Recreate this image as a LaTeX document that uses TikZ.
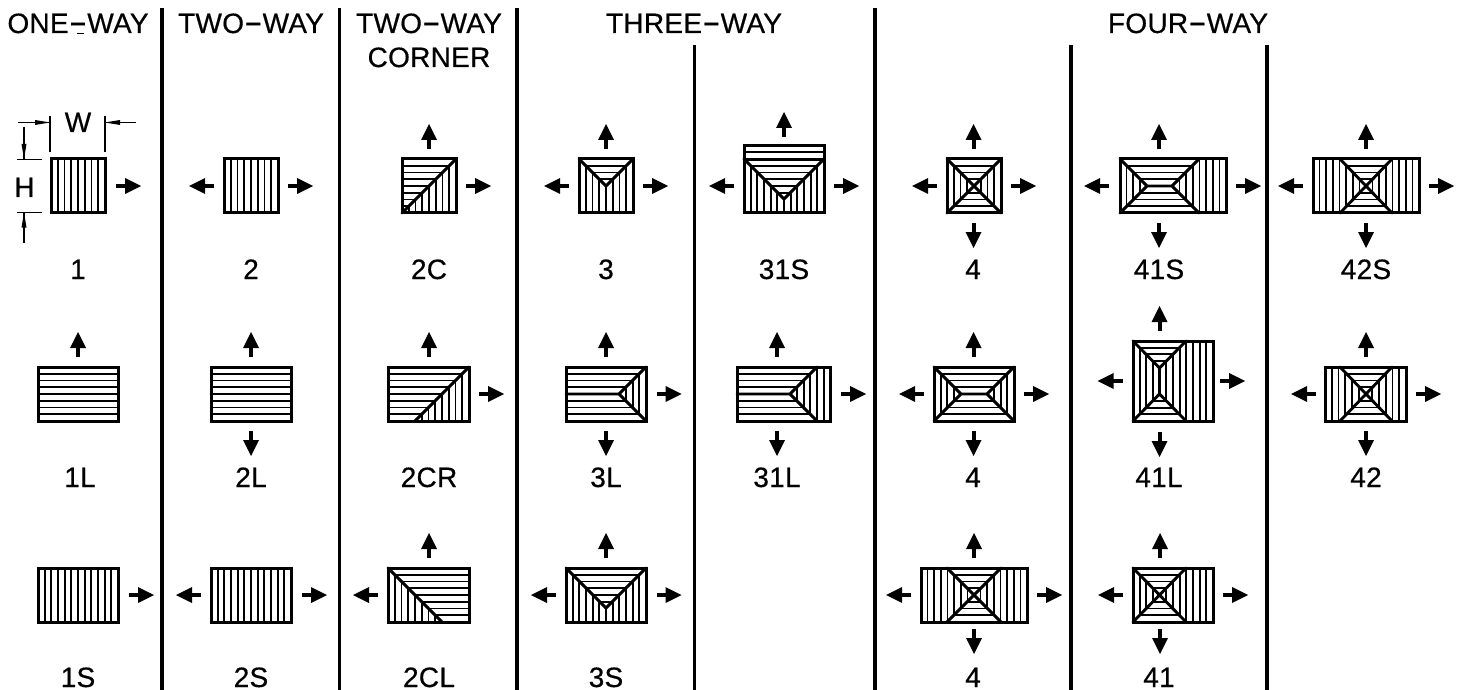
\documentclass[tikz,border=0pt]{standalone}
\usepackage{fontspec}
\setmainfont{Liberation Sans}[LetterSpace=1,FakeBold=0.5]
\newcommand\dsh{\scalebox{2}[1.2]{-}}
\tikzset{
  hat/.style={line width=0.85pt,black},
  hip/.style={line width=1.45pt,black,line cap=round},
  outer/.style={line width=1.5pt,black,line join=miter},
  shaft/.style={line width=2pt,black},
  divider/.style={line width=1.9pt,black},
  dimline/.style={line width=0.75pt,black},
  txt/.style={font=\fontsize{14pt}{16pt}\selectfont,anchor=base,inner sep=0pt,outer sep=0pt,align=center}
}
\newcommand\VV[3][6.75]{\begin{scope}\clip #2;\foreach \k in {0,...,20}{\draw[hat] ({#3+\k*#1},0)--({#3+\k*#1},690);}\end{scope}}
\newcommand\HH[3][6.75]{\begin{scope}\clip #2;\foreach \k in {0,...,20}{\draw[hat] (0,{#3-\k*#1})--(1463,{#3-\k*#1});}\end{scope}}
\newcommand\ROOF[4]{\draw[outer] (#1,#2) rectangle (#3,#4);}
\newcommand\AR[2]{\draw[shaft] (#1,#2)--({#1+11},#2);\fill ({#1+25},#2)--({#1+9},{#2-8})--({#1+9},{#2+8})--cycle;}
\newcommand\AL[2]{\draw[shaft] ({#1+25},#2)--({#1+14},#2);\fill (#1,#2)--({#1+16},{#2-8})--({#1+16},{#2+8})--cycle;}
\newcommand\AU[2]{\draw[shaft] (#1,{#2+25})--(#1,{#2+14});\fill (#1,#2)--({#1-8},{#2+16})--({#1+8},{#2+16})--cycle;}
\newcommand\AD[2]{\draw[shaft] (#1,#2)--(#1,{#2+11});\fill (#1,{#2+25})--({#1-8},{#2+9})--({#1+8},{#2+9})--cycle;}
\begin{document}
\begin{tikzpicture}[x=0.5pt,y=-0.5pt]
\useasboundingbox (0,0) rectangle (1463,690);
% dividers
\foreach \x in {162,339.5,517,875}{\draw[divider] (\x,8)--(\x,690);}
\foreach \x in {694.5,1071,1267}{\draw[divider] (\x,45)--(\x,690);}
% headers
\node[txt] (hOne) at (78,33) {ONE\dsh WAY};
\draw[line width=0.8pt] (77,33.5)--(84,33.5);
\node[txt] (hTwo) at (251,33) {TWO\dsh WAY};
\node[txt] (hCornerA) at (429,33) {TWO\dsh WAY};
\node[txt] (hCornerB) at (429,67) {CORNER};
\node[txt] (hThree) at (694,33) {THREE\dsh WAY};
\node[txt] (hFour) at (1188,33) {FOUR\dsh WAY};
% labels
\node[txt] (l1) at (78,279) {1};
\node[txt] (l2) at (251,279) {2};
\node[txt] (l2C) at (429,279) {2C};
\node[txt] (l3) at (606,279) {3};
\node[txt] (l31S) at (784,279) {31S};
\node[txt] (l4a) at (973,279) {4};
\node[txt] (l41S) at (1159,279) {41S};
\node[txt] (l42S) at (1366,279) {42S};
\node[txt] (l1L) at (80,487) {1L};
\node[txt] (l2L) at (251,487) {2L};
\node[txt] (l2CR) at (429,487) {2CR};
\node[txt] (l3L) at (606,487) {3L};
\node[txt] (l31L) at (777,487) {31L};
\node[txt] (l4b) at (973,487) {4};
\node[txt] (l41L) at (1159,487) {41L};
\node[txt] (l42) at (1366,487) {42};
\node[txt] (l1S) at (78,687) {1S};
\node[txt] (l2S) at (251,687) {2S};
\node[txt] (l2CL) at (429,687) {2CL};
\node[txt] (l3S) at (606,687) {3S};
\node[txt] (l4c) at (973,687) {4};
\node[txt] (l41) at (1159,687) {41};
% dimensions
\node[txt] (dW) at (78,132) {W};
\node[txt] (dH) at (24.5,197) {H};
\draw[dimline] (50,116)--(50,152) (105,116)--(105,152);
\draw[dimline] (17,159.5)--(42,159.5) (17,212.5)--(42,212.5);
\draw[dimline] (18,122.5)--(50,122.5) (105,122.5)--(136,122.5);
\draw[dimline] (24,127.5)--(24,159) (24,212.5)--(24,243);
\fill (50,122.5)--(35,120)--(35,125)--cycle;
\fill (105,122.5)--(120,120)--(120,125)--cycle;
\fill (24,159)--(21.5,144)--(26.5,144)--cycle;
\fill (24,212.5)--(21.5,227.5)--(26.5,227.5)--cycle;
% --- 1
\VV{(51,159) rectangle (105,213)}{51}
\ROOF{51}{159}{105}{213}
\AR{116}{186}
% --- 2
\VV{(224,159) rectangle (278,213)}{224}
\ROOF{224}{159}{278}{213}
\AL{189}{186}\AR{288}{186}
% --- 1L
\HH{(38,367) rectangle (118,421)}{421}
\ROOF{38}{367}{118}{421}
\AU{78}{332}
% --- 2L
\HH{(211,367) rectangle (291,421)}{421}
\draw[hip] (211,394)--(291,394);
\ROOF{211}{367}{291}{421}
\AU{251}{332}\AD{251}{431}
% --- 1S
\VV[6.667]{(38,568) rectangle (118,622)}{38}
\ROOF{38}{568}{118}{622}
\AR{129}{595}
% --- 2S
\VV[6.667]{(211,568) rectangle (291,622)}{211}
\ROOF{211}{568}{291}{622}
\AL{176}{595}\AR{302}{595}
% --- 2C
\HH{(402,159)--(456,159)--(402,213)--cycle}{213}
\VV{(456,159)--(456,213)--(402,213)--cycle}{402}
\draw[hip] (402,213)--(456,159);
\ROOF{402}{159}{456}{213}
\AU{429}{124}\AR{466}{186}
% --- 2CR
\HH{(388,367)--(469,367)--(415,421)--(388,421)--cycle}{421}
\VV[6.75]{(469,367)--(469,421)--(415,421)--cycle}{388}
\draw[hip] (415,421)--(469,367);
\ROOF{388}{367}{469}{421}
\AU{429}{332}\AR{479}{394}
% --- 2CL
\VV[6.75]{(388,568)--(442,622)--(388,622)--cycle}{388}
\HH{(388,568)--(469,568)--(469,622)--(442,622)--cycle}{622}
\draw[hip] (388,568)--(442,622);
\ROOF{388}{568}{469}{622}
\AU{429}{533}\AL{353}{595}
% --- 3
\HH{(579,159)--(633,159)--(606,186)--cycle}{213}
\VV{(579,159)--(606,186)--(633,159)--(633,213)--(579,213)--cycle}{579}
\draw[hip] (579,159)--(606,186)--(633,159);
\ROOF{579}{159}{633}{213}
\AU{606}{124}\AL{544}{186}\AR{643}{186}
% --- 31S
\HH{(744,146)--(824,146)--(824,159)--(784,199)--(744,159)--cycle}{213}
\VV[6.667]{(744,159)--(784,199)--(824,159)--(824,213)--(744,213)--cycle}{744}
\draw[hip] (744,159.5)--(824,159.5) (744,159)--(784,199)--(824,159);
\ROOF{744}{146}{824}{213}
\AU{784}{112}\AL{709}{186}\AR{834}{186}
% --- 3L
\HH{(566,367)--(646,367)--(619,394)--(646,421)--(566,421)--cycle}{421}
\VV[6.667]{(646,367)--(619,394)--(646,421)--cycle}{566}
\draw[hip] (646,367)--(619,394)--(646,421) (619,394)--(566,394);
\ROOF{566}{367}{646}{421}
\AU{606}{332}\AD{606}{431}\AR{656.5}{394}
% --- 31L
\HH{(737,367)--(817,367)--(790,394)--(817,421)--(737,421)--cycle}{421}
\VV[6.667]{(817,367)--(790,394)--(817,421)--(830,421)--(830,367)--cycle}{737}
\draw[hip] (817,367)--(790,394)--(817,421) (790,394)--(737,394);
\ROOF{737}{367}{830}{421}
\AU{777}{332}\AD{777}{431}\AR{841}{394}
% --- 3S
\HH{(566,568)--(646,568)--(606,608)--cycle}{622}
\VV[6.667]{(566,568)--(606,608)--(646,568)--(646,622)--(566,622)--cycle}{566}
\draw[hip] (566,568)--(606,608)--(646,568);
\ROOF{566}{568}{646}{622}
\AU{606}{533}\AL{531}{595}\AR{656.5}{595}
% --- 4 row 1
\HH{(947,159)--(1001,159)--(974,186)--cycle}{213}
\HH{(947,213)--(1001,213)--(974,186)--cycle}{213}
\VV{(947,159)--(974,186)--(947,213)--cycle}{947}
\VV{(1001,159)--(974,186)--(1001,213)--cycle}{947}
\draw[hip] (947,159)--(1001,213) (1001,159)--(947,213);
\ROOF{947}{159}{1001}{213}
\AU{973.5}{124}\AD{973.5}{223}\AL{912}{186}\AR{1011}{186}
% --- 4 row 2
\HH{(934,367)--(1014,367)--(987,394)--(961,394)--cycle}{421}
\HH{(934,421)--(1014,421)--(987,394)--(961,394)--cycle}{421}
\VV[6.667]{(934,367)--(961,394)--(934,421)--cycle}{934}
\VV[6.667]{(1014,367)--(987,394)--(1014,421)--cycle}{934}
\draw[hip] (934,367)--(961,394)--(934,421) (1014,367)--(987,394)--(1014,421) (961,394)--(987,394);
\ROOF{934}{367}{1014}{421}
\AU{973.5}{332}\AD{973.5}{431}\AL{899}{394}\AR{1024}{394}
% --- 4 row 3
\VV[6.625]{(921,568) rectangle (947,622)}{921}
\VV[6.625]{(1001,568) rectangle (1027,622)}{921}
\HH{(947,568)--(1001,568)--(974,595)--cycle}{622}
\HH{(947,622)--(1001,622)--(974,595)--cycle}{622}
\VV[6.625]{(947,568)--(974,595)--(947,622)--cycle}{921}
\VV[6.625]{(1001,568)--(974,595)--(1001,622)--cycle}{921}
\draw[hip] (947,568)--(1001,622) (1001,568)--(947,622);
\ROOF{921}{568}{1027}{622}
\AU{974}{533}\AD{974}{629}\AL{886}{595}\AR{1037}{595}
% --- 41S
\HH{(1120,159)--(1199,159)--(1172,186)--(1147,186)--cycle}{213}
\HH{(1120,213)--(1199,213)--(1172,186)--(1147,186)--cycle}{213}
\VV[6.625]{(1120,159)--(1147,186)--(1120,213)--cycle}{1120}
\VV[6.625]{(1199,159)--(1172,186)--(1199,213)--(1226,213)--(1226,159)--cycle}{1120}
\draw[hip] (1120,159)--(1147,186)--(1120,213) (1199,159)--(1172,186)--(1199,213) (1147,186)--(1172,186);
\ROOF{1120}{159}{1226}{213}
\AU{1159}{124}\AD{1159}{223}\AL{1084}{186}\AR{1236}{186}
% --- 42S
\VV[6.625]{(1313,159) rectangle (1341,213)}{1313}
\VV[6.625]{(1392,159) rectangle (1419,213)}{1313}
\HH{(1340,159)--(1392,159)--(1366,186)--cycle}{213}
\HH{(1340,213)--(1392,213)--(1366,186)--cycle}{213}
\VV[6.625]{(1340,159)--(1366,186)--(1340,213)--cycle}{1313}
\VV[6.625]{(1392,159)--(1366,186)--(1392,213)--cycle}{1313}
\draw[hip] (1340,159)--(1392,213) (1392,159)--(1340,213);
\ROOF{1313}{159}{1419}{213}
\AU{1366}{124}\AD{1366}{223}\AL{1278}{186}\AR{1429}{186}
% --- 41L
\HH[6.667]{(1133,341)--(1186,341)--(1159.5,368)--cycle}{421}
\HH[6.667]{(1133,421)--(1186,421)--(1159.5,394)--cycle}{421}
\VV[6.667]{(1133,341)--(1159.5,368)--(1159.5,394)--(1133,421)--cycle}{1133}
\VV[6.667]{(1186,341)--(1159.5,368)--(1159.5,394)--(1186,421)--(1213,421)--(1213,341)--cycle}{1133}
\draw[hip] (1133,341)--(1159.5,368)--(1186,341) (1133,421)--(1159.5,394)--(1186,421) (1159.5,368)--(1159.5,394);
\ROOF{1133}{341}{1213}{421}
\AU{1159.5}{306}\AD{1159.5}{432}\AL{1097.5}{381}\AR{1220}{381}
% --- 42
\VV[6.75]{(1325,367) rectangle (1340,421)}{1325}
\VV[6.75]{(1392,367) rectangle (1406,421)}{1325}
\HH{(1340,367)--(1392,367)--(1366,394)--cycle}{421}
\HH{(1340,421)--(1392,421)--(1366,394)--cycle}{421}
\VV[6.75]{(1340,367)--(1366,394)--(1340,421)--cycle}{1325}
\VV[6.75]{(1392,367)--(1366,394)--(1392,421)--cycle}{1325}
\draw[hip] (1340,367)--(1392,421) (1392,367)--(1340,421);
\ROOF{1325}{367}{1406}{421}
\AU{1366}{332}\AD{1366}{431}\AL{1291}{394}\AR{1416}{394}
% --- 41
\VV[6.667]{(1133,568)--(1159.5,595)--(1133,622)--cycle}{1133}
\VV[6.667]{(1186,568)--(1159.5,595)--(1186,622)--(1213,622)--(1213,568)--cycle}{1133}
\HH{(1133,568)--(1186,568)--(1159.5,595)--cycle}{622}
\HH{(1133,622)--(1186,622)--(1159.5,595)--cycle}{622}
\draw[hip] (1133,568)--(1186,622) (1186,568)--(1133,622);
\ROOF{1133}{568}{1213}{622}
\AU{1160}{533}\AD{1160}{629}\AL{1098}{595}\AR{1223}{595}
\end{tikzpicture}
\end{document}
